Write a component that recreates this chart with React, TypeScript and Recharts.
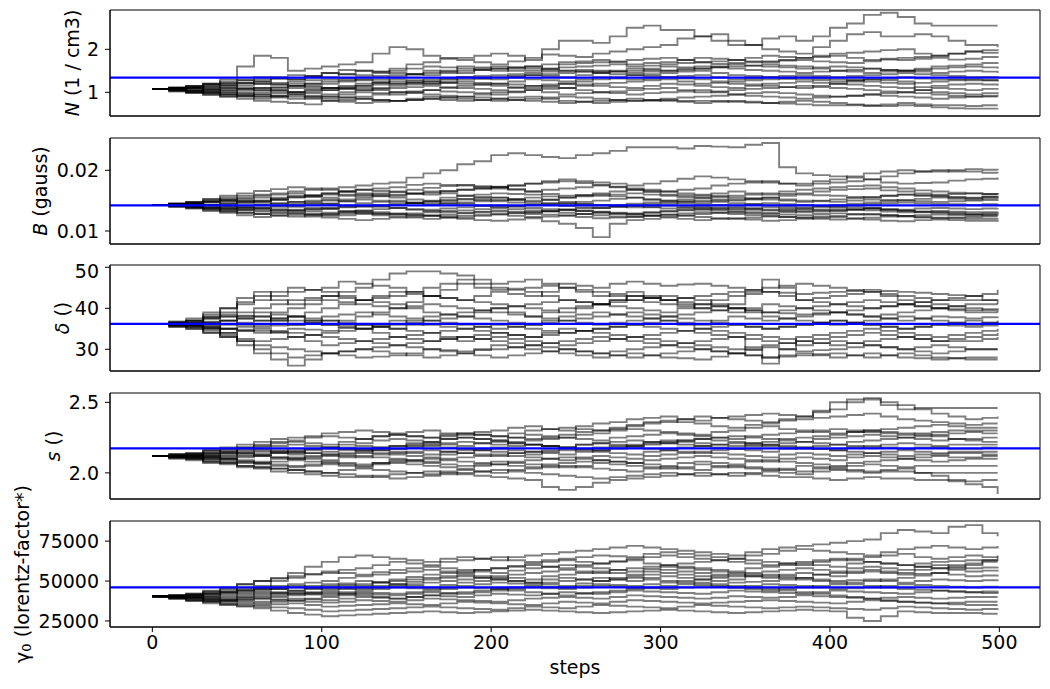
import React from "react";
import {
  LineChart,
  Line,
  XAxis,
  YAxis,
  ReferenceLine,
  ReferenceArea,
  Label,
} from "recharts";

// walker positions, one sample every 10 steps
const steps = [
  0, 10, 20, 30, 40, 50, 60, 70, 80, 90, 100, 110, 120, 130, 140, 150, 160, 170, 180, 190,
  200, 210, 220, 230, 240, 250, 260, 270, 280, 290, 300, 310, 320, 330, 340, 350, 360, 370, 380, 390,
  400, 410, 420, 430, 440, 450, 460, 470, 480, 490, 499,
];
const stepTicks = [0, 100, 200, 300, 400, 500];

// values at steps 0, 20, 40 ... 480, 499
const nEven = [
  [1.08, 1.15, 1.3, 1.85, 1.5, 1.6, 1.7, 2.05, 1.85, 1.8, 1.9, 1.75, 2.2, 2.15, 2.5, 2.45, 2.3, 2.1, 2.25, 2.2, 2.5, 2.8, 2.75, 2.55, 2.55, 2.55],
  [1.08, 1.1, 1.2, 1.25, 1.3, 1.45, 1.5, 1.55, 1.7, 1.75, 1.65, 1.8, 1.85, 1.9, 2.0, 2.1, 2.3, 2.2, 2.0, 1.9, 2.2, 2.4, 2.3, 2.3, 2.1, 2.05],
  [1.08, 1.05, 1.0, 1.1, 1.15, 1.2, 1.35, 1.4, 1.45, 1.6, 1.55, 1.5, 1.65, 1.7, 1.75, 1.8, 1.7, 1.75, 1.85, 1.8, 1.9, 1.95, 2.0, 1.85, 1.95, 1.9],
  [1.08, 1.12, 1.18, 1.2, 1.25, 1.3, 1.28, 1.35, 1.5, 1.45, 1.55, 1.6, 1.58, 1.62, 1.6, 1.65, 1.7, 1.68, 1.72, 1.75, 1.7, 1.72, 1.75, 1.8, 1.78, 1.8],
  [1.08, 1.0, 0.95, 1.0, 1.1, 1.05, 1.15, 1.2, 1.3, 1.35, 1.4, 1.45, 1.5, 1.48, 1.55, 1.5, 1.6, 1.55, 1.5, 1.45, 1.5, 1.55, 1.5, 1.6, 1.65, 1.7],
  [1.08, 1.1, 1.15, 1.05, 1.0, 1.1, 1.2, 1.25, 1.2, 1.3, 1.35, 1.4, 1.35, 1.45, 1.5, 1.6, 1.55, 1.65, 1.6, 1.55, 1.6, 1.55, 1.5, 1.55, 1.6, 1.55],
  [1.08, 1.03, 1.1, 1.2, 1.15, 1.25, 1.3, 1.2, 1.25, 1.35, 1.3, 1.4, 1.45, 1.5, 1.45, 1.5, 1.55, 1.6, 1.65, 1.6, 1.5, 1.45, 1.5, 1.45, 1.5, 1.45],
  [1.08, 1.15, 1.25, 1.3, 1.4, 1.35, 1.5, 1.45, 1.4, 1.5, 1.6, 1.55, 1.5, 1.45, 1.4, 1.45, 1.5, 1.4, 1.35, 1.4, 1.35, 1.4, 1.45, 1.4, 1.35, 1.38],
  [1.08, 1.05, 1.1, 1.05, 1.15, 1.1, 1.05, 1.15, 1.2, 1.25, 1.2, 1.3, 1.25, 1.35, 1.3, 1.35, 1.4, 1.3, 1.35, 1.3, 1.25, 1.3, 1.35, 1.3, 1.28, 1.3],
  [1.08, 1.0, 1.05, 0.95, 1.0, 1.05, 1.1, 1.0, 1.05, 1.15, 1.2, 1.15, 1.1, 1.2, 1.25, 1.3, 1.2, 1.25, 1.3, 1.35, 1.3, 1.25, 1.2, 1.25, 1.3, 1.25],
  [1.08, 1.12, 1.05, 1.1, 1.0, 0.95, 1.05, 1.1, 1.15, 1.1, 1.05, 1.15, 1.2, 1.15, 1.1, 1.2, 1.15, 1.1, 1.2, 1.25, 1.2, 1.15, 1.1, 1.15, 1.2, 1.15],
  [1.08, 0.98, 0.9, 0.95, 0.85, 0.9, 1.0, 0.95, 1.05, 1.0, 0.95, 1.05, 1.1, 1.0, 1.05, 1.1, 1.0, 1.05, 1.1, 1.15, 1.1, 1.05, 1.0, 1.1, 1.05, 1.1],
  [1.08, 1.02, 0.95, 0.9, 0.95, 0.85, 0.9, 1.0, 0.95, 0.9, 1.0, 1.05, 0.95, 1.0, 0.95, 1.0, 1.05, 0.95, 1.0, 0.95, 0.9, 0.95, 1.0, 0.95, 0.9, 0.95],
  [1.08, 1.0, 0.9, 0.8, 0.75, 0.8, 0.85, 0.8, 0.9, 0.85, 0.8, 0.85, 0.9, 0.85, 0.8, 0.85, 0.9, 0.95, 0.9, 0.85, 0.9, 0.95, 0.9, 0.85, 0.9, 0.9],
  [1.08, 1.05, 0.95, 0.85, 0.9, 0.8, 0.75, 0.8, 0.85, 0.9, 0.85, 0.8, 0.75, 0.8, 0.85, 0.8, 0.75, 0.8, 0.75, 0.8, 0.75, 0.7, 0.75, 0.7, 0.68, 0.7],
  [1.08, 1.1, 1.0, 0.9, 0.95, 0.9, 0.85, 0.8, 0.85, 0.8, 0.85, 0.9, 0.8, 0.75, 0.8, 0.82, 0.8, 0.78, 0.75, 0.72, 0.7, 0.68, 0.7, 0.65, 0.62, 0.63],
  [1.08, 1.1, 1.15, 1.25, 1.2, 1.1, 1.15, 1.3, 1.25, 1.2, 1.15, 1.1, 1.2, 1.3, 1.4, 1.35, 1.3, 1.2, 1.15, 1.1, 1.2, 1.3, 1.25, 1.0, 0.95, 1.0],
  [1.08, 1.14, 1.22, 1.35, 1.3, 1.45, 1.4, 1.5, 1.6, 1.55, 1.5, 1.6, 1.7, 1.75, 1.65, 1.7, 1.8, 1.75, 1.7, 1.8, 1.85, 1.75, 1.8, 1.85, 1.95, 2.0],
];
// values at steps 10, 30, 50 ... 490
const nOdd = [
  [1.1, 1.2, 1.6, 1.8, 1.55, 1.65, 1.9, 2.0, 1.8, 1.85, 1.85, 2.0, 2.2, 2.3, 2.55, 2.45, 2.2, 2.1, 2.3, 2.3, 2.6, 2.85, 2.6, 2.55, 2.55],
  [1.06, 1.18, 1.22, 1.32, 1.35, 1.52, 1.48, 1.65, 1.78, 1.7, 1.72, 1.88, 1.82, 1.95, 2.05, 2.25, 2.35, 2.1, 1.95, 2.05, 2.35, 2.3, 2.35, 2.2, 2.1],
  [1.1, 1.02, 1.05, 1.12, 1.2, 1.25, 1.38, 1.42, 1.5, 1.58, 1.5, 1.55, 1.68, 1.72, 1.78, 1.75, 1.72, 1.8, 1.82, 1.85, 1.92, 1.98, 1.9, 1.9, 1.92],
  [1.1, 1.15, 1.22, 1.18, 1.28, 1.32, 1.3, 1.42, 1.48, 1.52, 1.58, 1.55, 1.6, 1.65, 1.62, 1.68, 1.66, 1.7, 1.74, 1.72, 1.68, 1.76, 1.78, 1.76, 1.82],
  [1.04, 0.98, 0.97, 1.05, 1.08, 1.1, 1.18, 1.25, 1.32, 1.38, 1.42, 1.48, 1.52, 1.5, 1.52, 1.55, 1.58, 1.52, 1.48, 1.48, 1.52, 1.52, 1.55, 1.62, 1.68],
  [1.1, 1.12, 1.1, 1.02, 1.05, 1.15, 1.22, 1.22, 1.25, 1.32, 1.38, 1.38, 1.4, 1.48, 1.55, 1.58, 1.6, 1.62, 1.58, 1.58, 1.58, 1.52, 1.52, 1.58, 1.58],
  [1.05, 1.06, 1.15, 1.18, 1.2, 1.28, 1.25, 1.22, 1.3, 1.32, 1.35, 1.42, 1.48, 1.48, 1.48, 1.52, 1.58, 1.62, 1.62, 1.55, 1.48, 1.48, 1.48, 1.48, 1.48],
  [1.12, 1.2, 1.28, 1.35, 1.38, 1.42, 1.48, 1.42, 1.45, 1.55, 1.58, 1.52, 1.48, 1.42, 1.42, 1.48, 1.45, 1.38, 1.38, 1.38, 1.38, 1.42, 1.42, 1.38, 1.36],
  [1.06, 1.08, 1.08, 1.1, 1.12, 1.08, 1.1, 1.18, 1.22, 1.22, 1.25, 1.28, 1.3, 1.32, 1.32, 1.38, 1.35, 1.32, 1.32, 1.28, 1.28, 1.32, 1.32, 1.3, 1.28],
  [1.04, 1.02, 1.0, 0.98, 1.02, 1.08, 1.05, 1.02, 1.1, 1.18, 1.18, 1.12, 1.15, 1.22, 1.28, 1.25, 1.22, 1.28, 1.32, 1.32, 1.28, 1.22, 1.22, 1.28, 1.28],
  [1.1, 1.08, 1.08, 1.05, 0.98, 1.0, 1.08, 1.12, 1.12, 1.08, 1.1, 1.18, 1.18, 1.12, 1.15, 1.18, 1.12, 1.15, 1.22, 1.22, 1.18, 1.12, 1.12, 1.18, 1.18],
  [1.02, 0.94, 0.92, 0.9, 0.88, 0.95, 0.98, 1.0, 1.02, 0.98, 1.0, 1.08, 1.05, 1.02, 1.08, 1.05, 1.02, 1.08, 1.12, 1.12, 1.08, 1.02, 1.05, 1.08, 1.08],
  [1.05, 0.98, 0.92, 0.92, 0.9, 0.88, 0.95, 0.98, 0.92, 0.95, 1.02, 1.0, 0.98, 0.98, 0.98, 1.02, 1.0, 0.98, 0.98, 0.92, 0.92, 0.98, 0.98, 0.92, 0.92],
  [1.04, 0.95, 0.85, 0.78, 0.72, 0.82, 0.82, 0.85, 0.88, 0.82, 0.82, 0.88, 0.88, 0.82, 0.82, 0.88, 0.92, 0.92, 0.88, 0.88, 0.92, 0.92, 0.88, 0.88, 0.9],
  [1.06, 1.0, 0.9, 0.88, 0.85, 0.78, 0.78, 0.82, 0.88, 0.88, 0.82, 0.78, 0.78, 0.82, 0.82, 0.78, 0.78, 0.78, 0.78, 0.78, 0.72, 0.72, 0.72, 0.7, 0.7],
  [1.09, 1.05, 0.95, 0.92, 0.92, 0.88, 0.82, 0.82, 0.82, 0.82, 0.88, 0.85, 0.78, 0.78, 0.8, 0.8, 0.8, 0.76, 0.74, 0.7, 0.7, 0.68, 0.68, 0.63, 0.62],
  [1.1, 1.12, 1.2, 1.22, 1.15, 1.12, 1.22, 1.28, 1.22, 1.18, 1.12, 1.15, 1.25, 1.35, 1.38, 1.32, 1.25, 1.18, 1.12, 1.15, 1.25, 1.28, 1.05, 0.98, 0.98],
  [1.1, 1.18, 1.28, 1.32, 1.38, 1.42, 1.45, 1.55, 1.58, 1.52, 1.55, 1.65, 1.72, 1.7, 1.68, 1.75, 1.78, 1.72, 1.75, 1.82, 1.8, 1.78, 1.82, 1.9, 1.98],
];

const bEven = [
  [0.0143, 0.0148, 0.0155, 0.016, 0.0165, 0.017, 0.0175, 0.018, 0.0195, 0.021, 0.0225, 0.0225, 0.022, 0.0228, 0.0238, 0.0238, 0.024, 0.0238, 0.0245, 0.0195, 0.019, 0.0185, 0.0195, 0.02, 0.0198, 0.0195],
  [0.0143, 0.0146, 0.0152, 0.0158, 0.0162, 0.016, 0.0168, 0.0172, 0.0178, 0.0175, 0.017, 0.0178, 0.0185, 0.018, 0.0175, 0.0182, 0.019, 0.0185, 0.018, 0.0178, 0.0185, 0.0195, 0.02, 0.0198, 0.0202, 0.02],
  [0.0143, 0.0145, 0.015, 0.0148, 0.0155, 0.0162, 0.0158, 0.0165, 0.016, 0.0168, 0.0172, 0.0165, 0.017, 0.0175, 0.0168, 0.0165, 0.017, 0.0178, 0.0182, 0.0175, 0.018, 0.0185, 0.0178, 0.018, 0.0185, 0.0188],
  [0.0143, 0.014, 0.0145, 0.015, 0.0158, 0.0155, 0.016, 0.0155, 0.015, 0.0158, 0.0162, 0.016, 0.0155, 0.0162, 0.0168, 0.016, 0.0158, 0.0165, 0.016, 0.0162, 0.0168, 0.017, 0.0165, 0.016, 0.0162, 0.016],
  [0.0143, 0.0147, 0.0152, 0.0148, 0.0145, 0.015, 0.0155, 0.016, 0.0165, 0.0158, 0.0155, 0.015, 0.0155, 0.0158, 0.0162, 0.0158, 0.0155, 0.015, 0.0155, 0.016, 0.0158, 0.0155, 0.016, 0.0158, 0.0155, 0.0158],
  [0.0143, 0.0141, 0.0138, 0.0142, 0.0148, 0.0145, 0.0152, 0.0148, 0.0145, 0.0152, 0.0155, 0.0148, 0.0145, 0.015, 0.0155, 0.015, 0.0148, 0.0152, 0.0155, 0.015, 0.0148, 0.0152, 0.015, 0.0148, 0.015, 0.0152],
  [0.0143, 0.0145, 0.0141, 0.0138, 0.0142, 0.0145, 0.014, 0.0143, 0.0148, 0.0145, 0.014, 0.0143, 0.0146, 0.0142, 0.0145, 0.0148, 0.0145, 0.0142, 0.0146, 0.0143, 0.014, 0.0144, 0.0147, 0.0145, 0.0143, 0.0145],
  [0.0143, 0.0139, 0.0135, 0.0138, 0.0134, 0.0138, 0.0142, 0.0138, 0.0135, 0.0139, 0.0142, 0.0138, 0.0135, 0.0138, 0.0141, 0.0137, 0.014, 0.0137, 0.0134, 0.0137, 0.014, 0.0138, 0.0135, 0.0138, 0.0136, 0.0138],
  [0.0143, 0.014, 0.0136, 0.0132, 0.0135, 0.013, 0.0134, 0.0138, 0.0133, 0.013, 0.0134, 0.0131, 0.0135, 0.0132, 0.0129, 0.0133, 0.0136, 0.0132, 0.013, 0.0133, 0.0136, 0.0134, 0.0131, 0.0133, 0.0131, 0.0132],
  [0.0143, 0.0138, 0.0132, 0.0128, 0.013, 0.0127, 0.0131, 0.0128, 0.0125, 0.0129, 0.0132, 0.0128, 0.0126, 0.013, 0.0127, 0.0124, 0.0128, 0.0131, 0.0128, 0.0126, 0.0129, 0.0127, 0.0125, 0.0127, 0.0126, 0.0127],
  [0.0143, 0.0141, 0.0137, 0.0134, 0.0129, 0.0125, 0.0128, 0.0124, 0.012, 0.0125, 0.0128, 0.0123, 0.0125, 0.0121, 0.0124, 0.0127, 0.0123, 0.012, 0.0124, 0.0122, 0.0119, 0.0122, 0.0125, 0.0122, 0.012, 0.0121],
  [0.0143, 0.0137, 0.013, 0.0123, 0.0127, 0.0122, 0.0118, 0.0122, 0.0125, 0.012, 0.0117, 0.0121, 0.0112, 0.009, 0.0118, 0.0122, 0.0118, 0.0121, 0.0117, 0.012, 0.0123, 0.0119, 0.0116, 0.0119, 0.0117, 0.0118],
  [0.0143, 0.0146, 0.015, 0.0155, 0.0148, 0.0152, 0.0146, 0.015, 0.0143, 0.0147, 0.0151, 0.0155, 0.0148, 0.0143, 0.0139, 0.0142, 0.0138, 0.0135, 0.0139, 0.0136, 0.0133, 0.0137, 0.0134, 0.0131, 0.0128, 0.013],
  [0.0143, 0.0148, 0.0158, 0.0166, 0.0172, 0.0168, 0.0162, 0.0158, 0.0163, 0.0168, 0.0173, 0.0165, 0.0158, 0.016, 0.0155, 0.015, 0.0154, 0.0158, 0.0162, 0.0168, 0.0172, 0.0175, 0.017, 0.0165, 0.0162, 0.016],
  [0.0143, 0.0139, 0.0133, 0.0128, 0.0124, 0.0128, 0.0133, 0.0129, 0.0126, 0.0122, 0.0127, 0.0131, 0.0135, 0.0131, 0.0128, 0.0132, 0.0135, 0.0139, 0.0135, 0.0131, 0.0134, 0.0137, 0.0133, 0.013, 0.0127, 0.0125],
  [0.0143, 0.0145, 0.0148, 0.0144, 0.014, 0.0137, 0.0141, 0.0145, 0.0149, 0.0153, 0.0149, 0.0145, 0.0141, 0.0138, 0.0142, 0.0146, 0.015, 0.0146, 0.0142, 0.0139, 0.0143, 0.0147, 0.0151, 0.0155, 0.0152, 0.0155],
  [0.0143, 0.0141, 0.0145, 0.015, 0.0156, 0.0162, 0.0168, 0.0164, 0.0171, 0.0176, 0.0172, 0.0178, 0.0182, 0.0176, 0.017, 0.0165, 0.016, 0.0155, 0.0152, 0.0148, 0.0152, 0.0156, 0.016, 0.0157, 0.0154, 0.0157],
  [0.0143, 0.0144, 0.014, 0.0136, 0.0133, 0.0136, 0.013, 0.0127, 0.0131, 0.0134, 0.0138, 0.0134, 0.013, 0.0126, 0.0123, 0.0127, 0.0131, 0.0128, 0.0125, 0.0122, 0.0125, 0.0128, 0.0124, 0.0121, 0.0123, 0.0124],
];
const bOdd = [
  [0.0145, 0.0152, 0.0158, 0.0162, 0.0168, 0.0172, 0.0178, 0.0188, 0.02, 0.0215, 0.0228, 0.0222, 0.0225, 0.0232, 0.0238, 0.0236, 0.0239, 0.0242, 0.0205, 0.0192, 0.0188, 0.019, 0.0198, 0.0198, 0.0196],
  [0.0144, 0.0149, 0.0155, 0.016, 0.0158, 0.0165, 0.017, 0.0176, 0.0176, 0.0172, 0.0175, 0.0182, 0.0182, 0.0178, 0.0178, 0.0186, 0.0188, 0.0182, 0.0178, 0.0182, 0.019, 0.0198, 0.0198, 0.02, 0.0201],
  [0.0144, 0.0148, 0.015, 0.0152, 0.0158, 0.016, 0.0162, 0.0162, 0.0165, 0.017, 0.0168, 0.0168, 0.0172, 0.0172, 0.0166, 0.0168, 0.0175, 0.018, 0.0178, 0.0178, 0.0182, 0.018, 0.0179, 0.0183, 0.0186],
  [0.0141, 0.0142, 0.0148, 0.0155, 0.0156, 0.0158, 0.0157, 0.0152, 0.0155, 0.016, 0.0161, 0.0157, 0.0159, 0.0165, 0.0164, 0.0159, 0.0162, 0.0162, 0.0161, 0.0165, 0.0169, 0.0167, 0.0162, 0.0161, 0.0161],
  [0.0145, 0.015, 0.015, 0.0146, 0.0148, 0.0152, 0.0158, 0.0162, 0.0162, 0.0156, 0.0152, 0.0152, 0.0157, 0.016, 0.016, 0.0156, 0.0152, 0.0152, 0.0158, 0.0159, 0.0156, 0.0158, 0.0159, 0.0156, 0.0157],
  [0.0142, 0.0139, 0.014, 0.0145, 0.0146, 0.0149, 0.015, 0.0146, 0.0149, 0.0154, 0.0151, 0.0146, 0.0148, 0.0153, 0.0152, 0.0149, 0.015, 0.0154, 0.0152, 0.0149, 0.015, 0.0151, 0.0149, 0.0149, 0.0151],
  [0.0144, 0.0143, 0.0139, 0.014, 0.0144, 0.0142, 0.0141, 0.0146, 0.0146, 0.0142, 0.0141, 0.0145, 0.0144, 0.0143, 0.0147, 0.0146, 0.0143, 0.0144, 0.0144, 0.0141, 0.0142, 0.0146, 0.0146, 0.0144, 0.0144],
  [0.0141, 0.0137, 0.0136, 0.0136, 0.0136, 0.014, 0.014, 0.0136, 0.0137, 0.0141, 0.014, 0.0136, 0.0137, 0.014, 0.0139, 0.0138, 0.0139, 0.0135, 0.0135, 0.0139, 0.0139, 0.0136, 0.0137, 0.0137, 0.0137],
  [0.0141, 0.0138, 0.0134, 0.0134, 0.0132, 0.0132, 0.0136, 0.0135, 0.0131, 0.0132, 0.0132, 0.0133, 0.0133, 0.013, 0.0131, 0.0135, 0.0134, 0.0131, 0.0131, 0.0135, 0.0135, 0.0132, 0.0132, 0.0132, 0.0131],
  [0.014, 0.0135, 0.013, 0.0129, 0.0128, 0.0129, 0.0129, 0.0126, 0.0127, 0.0131, 0.013, 0.0127, 0.0128, 0.0128, 0.0125, 0.0126, 0.013, 0.0129, 0.0127, 0.0128, 0.0128, 0.0126, 0.0126, 0.0126, 0.0127],
  [0.0142, 0.0139, 0.0135, 0.0131, 0.0127, 0.0126, 0.0126, 0.0122, 0.0122, 0.0127, 0.0125, 0.0124, 0.0123, 0.0122, 0.0126, 0.0125, 0.0121, 0.0122, 0.0123, 0.012, 0.012, 0.0124, 0.0123, 0.0121, 0.012],
  [0.014, 0.0133, 0.0126, 0.0125, 0.0124, 0.012, 0.012, 0.0124, 0.0122, 0.0118, 0.0119, 0.0116, 0.0105, 0.0112, 0.012, 0.012, 0.012, 0.0119, 0.0118, 0.0122, 0.0121, 0.0117, 0.0118, 0.0118, 0.0117],
  [0.0145, 0.0148, 0.0153, 0.0151, 0.015, 0.0149, 0.0148, 0.0146, 0.0145, 0.0149, 0.0153, 0.0151, 0.0145, 0.0141, 0.014, 0.014, 0.0136, 0.0137, 0.0137, 0.0134, 0.0135, 0.0135, 0.0132, 0.013, 0.0129],
  [0.0145, 0.0153, 0.0162, 0.0169, 0.017, 0.0165, 0.016, 0.0161, 0.0166, 0.017, 0.0169, 0.0161, 0.0159, 0.0157, 0.0152, 0.0152, 0.0156, 0.016, 0.0165, 0.017, 0.0174, 0.0172, 0.0167, 0.0163, 0.0161],
  [0.0141, 0.0136, 0.013, 0.0126, 0.0126, 0.0131, 0.0131, 0.0127, 0.0124, 0.0125, 0.0129, 0.0133, 0.0133, 0.0129, 0.013, 0.0134, 0.0137, 0.0137, 0.0133, 0.0132, 0.0136, 0.0135, 0.0131, 0.0128, 0.0126],
  [0.0144, 0.0147, 0.0146, 0.0142, 0.0138, 0.0139, 0.0143, 0.0147, 0.0151, 0.0151, 0.0147, 0.0143, 0.0139, 0.014, 0.0144, 0.0148, 0.0148, 0.0144, 0.014, 0.0141, 0.0145, 0.0149, 0.0153, 0.0153, 0.0154],
  [0.0142, 0.0143, 0.0148, 0.0153, 0.0159, 0.0165, 0.0166, 0.0168, 0.0174, 0.0174, 0.0175, 0.018, 0.0179, 0.0173, 0.0168, 0.0162, 0.0158, 0.0153, 0.015, 0.015, 0.0154, 0.0158, 0.0158, 0.0155, 0.0156],
  [0.0144, 0.0142, 0.0138, 0.0134, 0.0135, 0.0133, 0.0128, 0.0129, 0.0133, 0.0136, 0.0136, 0.0132, 0.0128, 0.0124, 0.0125, 0.0129, 0.013, 0.0126, 0.0123, 0.0124, 0.0127, 0.0126, 0.0122, 0.0122, 0.0124],
];

const dEven = [
  [36.2, 37, 39, 42, 44, 45, 46, 45, 43, 46, 44.5, 45, 46, 45, 46.5, 45.5, 46, 45, 44, 43.5, 44, 44.5, 44, 43.5, 43, 44.5],
  [36.2, 37.5, 40, 44, 41, 43, 45, 48.5, 49, 48, 46, 47, 45, 43, 44, 42, 43, 44, 45, 46, 45, 44, 43, 42, 42, 42],
  [36.2, 36.5, 38, 37, 40, 42, 41, 40, 43, 42, 41, 40, 39, 41, 42, 43, 42, 40, 39, 40, 41, 42, 41, 40, 41, 41],
  [36.2, 36, 37, 39, 38, 40, 42, 41, 39, 38, 40, 41, 42, 41, 40, 39, 41, 40, 39, 38.5, 39, 40, 41, 40, 39.5, 40],
  [36.2, 37, 38.5, 38, 37, 36, 38, 40, 41, 40, 39, 38, 40, 41, 43, 42, 40, 39, 41, 40, 39, 38, 39, 40, 39, 39],
  [36.2, 35.5, 35, 36, 38, 37, 36, 35, 37, 38, 37, 36, 38, 39, 38, 37, 36, 38, 37, 38, 39, 38, 37, 38, 37.5, 38],
  [36.2, 36, 37, 35.5, 36, 37, 35, 36, 38, 39, 40, 38, 37, 36, 37, 38, 39, 40, 38, 37, 36, 37, 38, 37, 36, 37],
  [36.2, 36.5, 35, 34, 35, 34.5, 36, 35, 34, 35, 36, 35, 34, 35, 36, 37, 35, 36, 35, 36, 37, 36, 35, 36, 35.5, 36],
  [36.2, 35.8, 34, 35, 33, 34, 35, 33, 32, 33, 34, 33, 35, 34, 33, 34, 35, 34, 33, 32, 33, 34, 33, 32, 33, 34],
  [36.2, 35.5, 33, 32, 33, 31, 32, 33, 34, 32, 33, 32, 31, 32, 33, 32, 31, 30, 31, 32, 31, 32, 33, 32, 32, 33],
  [36.2, 35, 33.5, 31, 30, 29, 30, 31, 30, 29.5, 30, 31, 30, 29, 30, 31, 30, 29, 30.5, 29.5, 30, 31, 30, 29, 30, 30],
  [36.2, 35.5, 34, 30, 28, 29, 28, 28.5, 30, 29, 28, 29, 30, 29, 28, 29, 30, 29, 28, 29, 28, 29, 28, 27.5, 28, 28],
  [36.2, 36, 33, 29, 26, 29, 30, 29, 28, 29, 31, 30, 29, 28, 29, 28, 27.5, 29, 28, 28.5, 29, 28, 29, 28, 27.5, 27.5],
  [36.2, 37, 40, 43, 45, 44, 42, 43, 45, 47, 45, 44, 42, 41, 43, 42, 41, 43, 44, 42, 41, 40, 41, 42, 43, 41],
  [36.2, 35, 36, 37, 38, 36, 35, 37, 36, 35, 34, 33, 34, 35, 36, 35, 34, 33, 26.5, 33, 34, 35, 34, 33, 34, 35],
  [36.2, 36.8, 38, 40, 42, 43, 42, 44, 43, 42, 44, 43, 45, 44, 42, 41, 40, 41, 47, 42, 43, 44, 42, 41, 40, 39],
  [36.2, 36, 35, 34.5, 34, 33, 32, 31, 32, 33, 32, 31, 32, 33, 32, 31, 32, 33, 32, 31, 32, 31, 30, 31, 30, 30],
  [36.2, 36.4, 37, 38, 36, 38, 39, 38, 37, 36, 35, 36, 37, 38, 39, 38, 37, 36, 35, 36, 37, 36, 35, 36, 37, 36],
];
const dOdd = [
  [36.5, 38, 41, 43, 44.5, 46.5, 45.5, 44, 44.5, 45, 44.8, 45.5, 45.5, 46, 46, 45.8, 45.5, 44.5, 43.8, 43.8, 44.2, 44.2, 43.8, 43.2, 43.5],
  [36.8, 39, 42.5, 42, 42, 44, 47, 49, 48.5, 47, 46.5, 46, 44, 43.5, 43, 42.5, 43.5, 44.5, 45.5, 45.5, 44.5, 43.5, 42.5, 42, 42],
  [36.3, 37.5, 37.5, 39, 41, 41.5, 40.5, 41.5, 42.5, 41.5, 40.5, 39.5, 40, 41.5, 42.5, 42.5, 41, 39.5, 39.5, 40.5, 41.5, 41.5, 40.5, 40.5, 41],
  [36.1, 36.5, 38, 38.5, 39, 41, 41.5, 40, 38.5, 39, 40.5, 41.5, 41.5, 40.5, 39.5, 40, 40.5, 39.5, 38.8, 38.8, 39.5, 40.5, 40.5, 39.8, 39.8],
  [36.6, 37.8, 38.2, 37.5, 36.5, 37, 39, 40.5, 40.5, 39.5, 38.5, 39, 40.5, 42, 42.5, 41, 39.5, 40, 40.5, 39.5, 38.5, 38.5, 39.5, 39.5, 39],
  [35.8, 35.2, 35.5, 37, 37.5, 36.5, 35.5, 36, 37.5, 37.5, 36.5, 37, 38.5, 38.5, 37.5, 36.5, 37, 37.5, 37.5, 38.5, 38.5, 37.5, 37.5, 37.8, 37.8],
  [36.1, 36.5, 36, 35.8, 36.5, 36, 35.5, 37, 38.5, 39.5, 39, 37.5, 36.5, 36.5, 37.5, 38.5, 39.5, 39, 37.5, 36.5, 36.5, 37.5, 37.5, 36.5, 36.5],
  [36.3, 35.8, 34.5, 34.5, 34.8, 35.2, 35.5, 34.5, 34.5, 35.5, 35.5, 34.5, 34.5, 35.5, 36.5, 36, 35.5, 35.5, 35.5, 36.5, 36.5, 35.5, 35.5, 35.8, 35.8],
  [36, 35, 34.5, 34, 33.5, 34.5, 34, 32.5, 32.5, 33.5, 33.5, 34, 34.5, 33.5, 33.5, 34.5, 34.5, 33.5, 32.5, 32.5, 33.5, 33.5, 32.5, 32.5, 33.5],
  [35.8, 34, 32.5, 32.5, 32, 31.5, 32.5, 33.5, 33, 32.5, 32.5, 31.5, 31.5, 32.5, 32.5, 31.5, 30.5, 30.5, 31.5, 31.5, 31.5, 32.5, 32.5, 32, 32.5],
  [35.5, 34, 32, 30.5, 29.5, 29.5, 30.5, 30.5, 29.8, 29.8, 30.5, 30.5, 29.5, 29.5, 30.5, 30.5, 29.5, 29.8, 30, 29.8, 30.5, 30.5, 29.5, 29.5, 30],
  [35.8, 35, 32, 29, 28.5, 28.5, 28.2, 29, 29.5, 28.5, 28.5, 29.5, 29.5, 28.5, 28.5, 29.5, 29.5, 28.5, 28.5, 28.5, 28.5, 28.5, 27.8, 27.8, 28],
  [36.1, 34.5, 31, 27.5, 27.5, 29.5, 29.5, 28.5, 28.5, 30, 30.5, 29.5, 28.5, 28.5, 28.5, 27.8, 28.2, 28.5, 28.2, 28.8, 28.5, 28.5, 28.5, 27.8, 27.5],
  [36.5, 38.5, 41.5, 44, 44.5, 43, 42.5, 44, 46, 46, 44.5, 43, 41.5, 42, 42.5, 41.5, 42, 43.5, 43, 41.5, 40.5, 40.5, 41.5, 42.5, 42],
  [35.5, 35.5, 36.5, 37.5, 37, 35.5, 36, 36.5, 35.5, 34.5, 33.5, 33.5, 34.5, 35.5, 35.5, 34.5, 33.5, 30, 30, 33.5, 34.5, 34.5, 33.5, 33.5, 34.5],
  [36.5, 37.5, 39, 41, 42.5, 42.5, 43, 43.5, 42.5, 43, 43.5, 44, 44.5, 43, 41.5, 40.5, 40.5, 44, 45, 42.5, 43.5, 43, 41.5, 40.5, 39.5],
  [36.1, 35.5, 34.8, 34.2, 33.5, 32.5, 31.5, 31.5, 32.5, 32.5, 31.5, 31.5, 32.5, 32.5, 31.5, 31.5, 32.5, 32.5, 31.5, 31.5, 31.5, 30.5, 30.5, 30.5, 30],
  [36.3, 36.7, 37.5, 37, 37, 38.5, 38.5, 37.5, 36.5, 35.5, 35.5, 36.5, 37.5, 38.5, 38.5, 37.5, 36.5, 35.5, 35.5, 36.5, 36.5, 35.5, 35.5, 36.5, 36.5],
];

const sEven = [
  [2.12, 2.14, 2.17, 2.2, 2.23, 2.26, 2.24, 2.28, 2.3, 2.27, 2.3, 2.33, 2.3, 2.35, 2.38, 2.4, 2.37, 2.4, 2.42, 2.4, 2.45, 2.52, 2.45, 2.46, 2.46, 2.46],
  [2.12, 2.13, 2.16, 2.19, 2.22, 2.2, 2.24, 2.27, 2.25, 2.28, 2.26, 2.3, 2.32, 2.3, 2.34, 2.37, 2.35, 2.32, 2.35, 2.38, 2.4, 2.42, 2.38, 2.36, 2.34, 2.35],
  [2.12, 2.12, 2.14, 2.17, 2.15, 2.18, 2.21, 2.24, 2.22, 2.25, 2.23, 2.27, 2.25, 2.28, 2.31, 2.29, 2.27, 2.3, 2.33, 2.3, 2.28, 2.3, 2.32, 2.34, 2.32, 2.32],
  [2.12, 2.11, 2.13, 2.16, 2.14, 2.17, 2.19, 2.17, 2.2, 2.22, 2.2, 2.23, 2.25, 2.23, 2.26, 2.28, 2.26, 2.24, 2.27, 2.29, 2.31, 2.29, 2.27, 2.29, 2.3, 2.3],
  [2.12, 2.13, 2.15, 2.13, 2.16, 2.18, 2.16, 2.19, 2.21, 2.19, 2.22, 2.2, 2.18, 2.21, 2.23, 2.21, 2.24, 2.26, 2.24, 2.22, 2.25, 2.27, 2.25, 2.27, 2.29, 2.28],
  [2.12, 2.11, 2.12, 2.15, 2.13, 2.15, 2.17, 2.15, 2.13, 2.16, 2.18, 2.2, 2.18, 2.16, 2.19, 2.21, 2.19, 2.17, 2.2, 2.22, 2.2, 2.23, 2.25, 2.23, 2.24, 2.25],
  [2.12, 2.12, 2.11, 2.13, 2.15, 2.13, 2.11, 2.14, 2.16, 2.14, 2.17, 2.15, 2.13, 2.16, 2.18, 2.16, 2.19, 2.21, 2.19, 2.17, 2.2, 2.18, 2.21, 2.19, 2.2, 2.2],
  [2.12, 2.11, 2.1, 2.12, 2.1, 2.13, 2.15, 2.13, 2.11, 2.14, 2.12, 2.15, 2.17, 2.15, 2.13, 2.16, 2.14, 2.17, 2.15, 2.18, 2.16, 2.19, 2.17, 2.18, 2.17, 2.18],
  [2.12, 2.12, 2.1, 2.08, 2.11, 2.09, 2.12, 2.1, 2.08, 2.11, 2.13, 2.11, 2.09, 2.12, 2.1, 2.13, 2.15, 2.13, 2.11, 2.14, 2.12, 2.14, 2.16, 2.14, 2.15, 2.15],
  [2.12, 2.11, 2.09, 2.07, 2.09, 2.07, 2.05, 2.08, 2.1, 2.08, 2.06, 2.09, 2.11, 2.09, 2.07, 2.1, 2.12, 2.1, 2.08, 2.11, 2.09, 2.12, 2.1, 2.12, 2.11, 2.12],
  [2.12, 2.1, 2.08, 2.06, 2.04, 2.06, 2.04, 2.07, 2.05, 2.03, 2.06, 2.04, 2.07, 2.09, 2.07, 2.05, 2.08, 2.06, 2.09, 2.07, 2.05, 2.08, 2.1, 2.08, 2.1, 2.1],
  [2.12, 2.1, 2.07, 2.04, 2.02, 2.0, 2.03, 2.01, 1.99, 2.02, 2.0, 2.03, 2.05, 2.03, 2.01, 2.04, 2.02, 2.05, 2.03, 2.01, 2.04, 2.06, 2.04, 2.05, 2.05, 2.05],
  [2.12, 2.09, 2.06, 2.03, 2.0, 1.98, 1.97, 1.99, 2.01, 1.99, 1.97, 1.95, 1.88, 1.93, 1.96, 1.98, 2.0, 1.98, 2.01, 1.99, 2.02, 2.0, 2.01, 2.0, 2.0, 2.0],
  [2.12, 2.1, 2.07, 2.04, 2.02, 2.0, 1.98, 1.96, 1.98, 2.0, 2.02, 2.0, 1.98, 1.96, 1.98, 2.0, 1.98, 2.0, 1.98, 1.97, 1.95, 1.97, 1.96, 1.95, 1.94, 1.95],
  [2.12, 2.13, 2.1, 2.07, 2.05, 2.08, 2.06, 2.09, 2.07, 2.05, 2.08, 2.06, 2.04, 2.07, 2.05, 2.03, 2.06, 2.04, 2.02, 2.05, 2.03, 2.01, 2.03, 1.98, 1.92, 1.85],
  [2.12, 2.14, 2.18, 2.22, 2.25, 2.28, 2.3, 2.27, 2.25, 2.28, 2.26, 2.24, 2.27, 2.3, 2.33, 2.36, 2.4, 2.38, 2.36, 2.4, 2.5, 2.53, 2.48, 2.42, 2.38, 2.4],
  [2.12, 2.13, 2.15, 2.18, 2.2, 2.18, 2.16, 2.19, 2.22, 2.25, 2.23, 2.2, 2.18, 2.21, 2.19, 2.22, 2.24, 2.22, 2.2, 2.18, 2.16, 2.14, 2.12, 2.13, 2.14, 2.13],
  [2.12, 2.12, 2.14, 2.12, 2.1, 2.12, 2.14, 2.17, 2.19, 2.17, 2.15, 2.13, 2.16, 2.18, 2.2, 2.23, 2.21, 2.19, 2.22, 2.25, 2.27, 2.3, 2.28, 2.26, 2.23, 2.22],
];
const sOdd = [
  [2.13, 2.16, 2.18, 2.22, 2.25, 2.25, 2.26, 2.29, 2.28, 2.29, 2.32, 2.31, 2.33, 2.36, 2.39, 2.38, 2.39, 2.41, 2.41, 2.43, 2.5, 2.48, 2.46, 2.46, 2.46],
  [2.12, 2.15, 2.18, 2.21, 2.21, 2.22, 2.26, 2.26, 2.27, 2.27, 2.28, 2.31, 2.31, 2.32, 2.36, 2.36, 2.33, 2.34, 2.37, 2.39, 2.41, 2.4, 2.37, 2.35, 2.35],
  [2.12, 2.13, 2.16, 2.16, 2.17, 2.2, 2.23, 2.23, 2.24, 2.24, 2.25, 2.26, 2.27, 2.3, 2.3, 2.28, 2.29, 2.32, 2.31, 2.29, 2.29, 2.31, 2.33, 2.33, 2.32],
  [2.11, 2.12, 2.15, 2.15, 2.16, 2.18, 2.18, 2.19, 2.21, 2.21, 2.22, 2.24, 2.24, 2.25, 2.27, 2.27, 2.25, 2.26, 2.28, 2.3, 2.3, 2.28, 2.28, 2.3, 2.3],
  [2.13, 2.14, 2.14, 2.15, 2.17, 2.17, 2.18, 2.2, 2.2, 2.21, 2.21, 2.19, 2.2, 2.22, 2.22, 2.23, 2.25, 2.25, 2.23, 2.24, 2.26, 2.26, 2.26, 2.28, 2.28],
  [2.11, 2.11, 2.14, 2.14, 2.14, 2.16, 2.16, 2.14, 2.15, 2.17, 2.19, 2.19, 2.17, 2.18, 2.2, 2.2, 2.18, 2.19, 2.21, 2.21, 2.22, 2.24, 2.24, 2.24, 2.25],
  [2.12, 2.11, 2.12, 2.14, 2.14, 2.12, 2.13, 2.15, 2.15, 2.16, 2.16, 2.14, 2.15, 2.17, 2.17, 2.18, 2.2, 2.2, 2.18, 2.19, 2.19, 2.2, 2.2, 2.2, 2.2],
  [2.11, 2.1, 2.11, 2.11, 2.12, 2.14, 2.14, 2.12, 2.13, 2.13, 2.14, 2.16, 2.16, 2.14, 2.15, 2.15, 2.16, 2.16, 2.17, 2.17, 2.18, 2.18, 2.18, 2.17, 2.18],
  [2.12, 2.11, 2.09, 2.1, 2.1, 2.11, 2.11, 2.09, 2.1, 2.12, 2.12, 2.1, 2.11, 2.11, 2.12, 2.14, 2.14, 2.12, 2.13, 2.13, 2.13, 2.15, 2.15, 2.15, 2.15],
  [2.11, 2.1, 2.08, 2.08, 2.08, 2.06, 2.07, 2.09, 2.09, 2.07, 2.08, 2.1, 2.1, 2.08, 2.09, 2.11, 2.11, 2.09, 2.1, 2.1, 2.11, 2.11, 2.11, 2.11, 2.12],
  [2.11, 2.09, 2.07, 2.05, 2.05, 2.05, 2.06, 2.06, 2.04, 2.05, 2.05, 2.06, 2.08, 2.08, 2.06, 2.07, 2.07, 2.08, 2.08, 2.06, 2.07, 2.09, 2.09, 2.09, 2.1],
  [2.11, 2.08, 2.05, 2.03, 2.01, 2.02, 2.02, 2.0, 2.01, 2.01, 2.02, 2.04, 2.04, 2.02, 2.03, 2.03, 2.04, 2.04, 2.02, 2.03, 2.05, 2.05, 2.05, 2.05, 2.05],
  [2.1, 2.07, 2.04, 2.01, 1.99, 1.97, 1.98, 2.0, 2.0, 1.98, 1.96, 1.9, 1.9, 1.95, 1.97, 1.99, 1.99, 2.0, 2.0, 2.01, 2.01, 2.01, 2.0, 2.0, 2.0],
  [2.11, 2.08, 2.05, 2.03, 2.01, 1.99, 1.97, 1.97, 1.99, 2.01, 2.01, 1.99, 1.97, 1.97, 1.99, 1.99, 1.99, 1.99, 1.97, 1.96, 1.96, 1.96, 1.95, 1.94, 1.95],
  [2.13, 2.12, 2.08, 2.06, 2.06, 2.07, 2.07, 2.08, 2.06, 2.06, 2.07, 2.05, 2.05, 2.06, 2.04, 2.04, 2.05, 2.03, 2.03, 2.04, 2.02, 2.02, 2.0, 1.95, 1.9],
  [2.13, 2.16, 2.2, 2.24, 2.26, 2.29, 2.29, 2.26, 2.26, 2.27, 2.25, 2.25, 2.29, 2.31, 2.35, 2.38, 2.39, 2.37, 2.38, 2.44, 2.52, 2.5, 2.45, 2.4, 2.39],
  [2.12, 2.14, 2.17, 2.19, 2.19, 2.17, 2.17, 2.21, 2.24, 2.24, 2.21, 2.19, 2.2, 2.2, 2.21, 2.23, 2.23, 2.21, 2.19, 2.17, 2.15, 2.13, 2.13, 2.14, 2.13],
  [2.12, 2.13, 2.13, 2.11, 2.11, 2.13, 2.16, 2.18, 2.18, 2.16, 2.14, 2.15, 2.17, 2.19, 2.22, 2.22, 2.2, 2.21, 2.24, 2.26, 2.29, 2.29, 2.27, 2.24, 2.22],
];

const gEven = [
  [40500, 42000, 45000, 50000, 55000, 62000, 66000, 64000, 62000, 65000, 63000, 66000, 68000, 70000, 72000, 70000, 68000, 66000, 70000, 72000, 74000, 76000, 82000, 80000, 85000, 78000],
  [40500, 41500, 44000, 47000, 52000, 55000, 58000, 62000, 60000, 63000, 65000, 62000, 64000, 66000, 65000, 68000, 66000, 64000, 67000, 70000, 68000, 66000, 70000, 72000, 70000, 72000],
  [40500, 41000, 43000, 45000, 48000, 50000, 53000, 55000, 57000, 55000, 58000, 60000, 58000, 61000, 63000, 60000, 62000, 64000, 62000, 60000, 63000, 65000, 67000, 64000, 66000, 65000],
  [40500, 40000, 42000, 44000, 46000, 48000, 47000, 50000, 52000, 54000, 52000, 55000, 57000, 55000, 58000, 60000, 58000, 56000, 59000, 61000, 59000, 62000, 60000, 58000, 61000, 62000],
  [40500, 41000, 40000, 42000, 44000, 46000, 45000, 47000, 49000, 51000, 53000, 51000, 54000, 56000, 54000, 57000, 55000, 53000, 56000, 58000, 56000, 59000, 57000, 60000, 58000, 59000],
  [40500, 39500, 41000, 43000, 42000, 44000, 46000, 48000, 46000, 49000, 51000, 49000, 52000, 50000, 53000, 55000, 53000, 51000, 54000, 52000, 55000, 57000, 55000, 58000, 56000, 57000],
  [40500, 40500, 39000, 41000, 43000, 42000, 44000, 46000, 45000, 47000, 49000, 48000, 50000, 52000, 50000, 53000, 51000, 54000, 52000, 55000, 53000, 56000, 54000, 55000, 53000, 54000],
  [40500, 40000, 38500, 40000, 42000, 41000, 43000, 42000, 44000, 46000, 45000, 47000, 46000, 48000, 47000, 49000, 51000, 49000, 50000, 52000, 50000, 51000, 49000, 51000, 50000, 51000],
  [40500, 39000, 37500, 39000, 38000, 40000, 42000, 41000, 43000, 42000, 44000, 46000, 45000, 47000, 46000, 45000, 47000, 46000, 48000, 47000, 45000, 46000, 48000, 47000, 46000, 47000],
  [40500, 39500, 38000, 37000, 39000, 38000, 40000, 39000, 41000, 40000, 42000, 41000, 43000, 42000, 44000, 43000, 42000, 44000, 43000, 42000, 44000, 43000, 42000, 44000, 43000, 44000],
  [40500, 38500, 37000, 36000, 37500, 36500, 38000, 37000, 39000, 38000, 37000, 39000, 40000, 39000, 41000, 40000, 39000, 40500, 39500, 41000, 40000, 39000, 40000, 39000, 40000, 40000],
  [40500, 38000, 36000, 35000, 36000, 34000, 35000, 36000, 35000, 37000, 36000, 35000, 37000, 36000, 38000, 37000, 36000, 37000, 38000, 37000, 36000, 38000, 37000, 36000, 37000, 37000],
  [40500, 37500, 35000, 34000, 33000, 31000, 32000, 33000, 34000, 33000, 32000, 34000, 33000, 35000, 34000, 33000, 35000, 34000, 33000, 34000, 33000, 32000, 34000, 33000, 32000, 33000],
  [40500, 38000, 35500, 33000, 30000, 28000, 29000, 30000, 31000, 30000, 31000, 32000, 31000, 30000, 31000, 32000, 31000, 30000, 31000, 32000, 31000, 25000, 31000, 30000, 30000, 29500],
  [40500, 42000, 46000, 50000, 53000, 56000, 54000, 57000, 59000, 57000, 55000, 58000, 60000, 58000, 56000, 59000, 57000, 55000, 53000, 51000, 49000, 47000, 45000, 44000, 43000, 42000],
  [40500, 41000, 43000, 46000, 44000, 47000, 50000, 48000, 51000, 53000, 51000, 49000, 47000, 50000, 52000, 50000, 48000, 46000, 44000, 46000, 48000, 50000, 52000, 55000, 60000, 66000],
  [40500, 39500, 38000, 39000, 41000, 43000, 41000, 39000, 41000, 43000, 45000, 43000, 41000, 43000, 45000, 47000, 49000, 47000, 45000, 43000, 41000, 39000, 37000, 36000, 35000, 35000],
  [40500, 41500, 43000, 45000, 47000, 45000, 48000, 51000, 54000, 56000, 58000, 61000, 63000, 61000, 64000, 66000, 64000, 62000, 60000, 62000, 64000, 62000, 60000, 62000, 63000, 63000],
];
const gOdd = [
  [41000, 43500, 48000, 52000, 59000, 65000, 65000, 63000, 64000, 64000, 65000, 67000, 69000, 71000, 71000, 69000, 67000, 68000, 71000, 73000, 75000, 80000, 81000, 84000, 80000],
  [41000, 43000, 45500, 50000, 54000, 57000, 60000, 61000, 62000, 64000, 63000, 63000, 65000, 65500, 67000, 67000, 65000, 66000, 69000, 69000, 67000, 68000, 71000, 71000, 71000],
  [40500, 42000, 44000, 47000, 49000, 52000, 54000, 56000, 56000, 57000, 59000, 59000, 60000, 62000, 61000, 61000, 63000, 63000, 61000, 62000, 64000, 66000, 65000, 65000, 65000],
  [40000, 41000, 43000, 45000, 47000, 47500, 49000, 51000, 53000, 53000, 54000, 56000, 56000, 57000, 59000, 59000, 57000, 58000, 60000, 60000, 61000, 61000, 59000, 60000, 62000],
  [41000, 40500, 41000, 43000, 45000, 45500, 46000, 48000, 50000, 52000, 52000, 53000, 55000, 55000, 56000, 56000, 54000, 55000, 57000, 57000, 58000, 58000, 59000, 59000, 58500],
  [40000, 40000, 42000, 42500, 43000, 45000, 47000, 47000, 47500, 50000, 50000, 51000, 51000, 52000, 54000, 54000, 52000, 53000, 53000, 54000, 56000, 56000, 57000, 57000, 56500],
  [40500, 39500, 40000, 42000, 42500, 43000, 45000, 45500, 46000, 48000, 48500, 49000, 51000, 51000, 52000, 52000, 53000, 53000, 54000, 54000, 55000, 55000, 54500, 54000, 53500],
  [40000, 39000, 39500, 41000, 41500, 42000, 42500, 43000, 45000, 45500, 46000, 46500, 47000, 47500, 48000, 50000, 50000, 49500, 51000, 51000, 50500, 50000, 50000, 50500, 50500],
  [39500, 38000, 38500, 38500, 39000, 41000, 41500, 42000, 42500, 43000, 45000, 45500, 46000, 46500, 45500, 46000, 46500, 47000, 47500, 46000, 45500, 47000, 47500, 46500, 46500],
  [40000, 38500, 37500, 38000, 38500, 39000, 39500, 40000, 40500, 41000, 41500, 42000, 42500, 43000, 43500, 42500, 43000, 43500, 42500, 43000, 43500, 42500, 43000, 43500, 43500],
  [39500, 37500, 36500, 37000, 37000, 37000, 37500, 38000, 38500, 37500, 38000, 39500, 39500, 40000, 40500, 39500, 39500, 40000, 40000, 40500, 39500, 39500, 39500, 39500, 40000],
  [39000, 37000, 35500, 35500, 35000, 34500, 35500, 35500, 36000, 36500, 35500, 36000, 36500, 37000, 37500, 36500, 36500, 37500, 37500, 36500, 37000, 37500, 36500, 36500, 37000],
  [39000, 36000, 34500, 33500, 32000, 31500, 32500, 33500, 33500, 32500, 33000, 33500, 34000, 34500, 33500, 34000, 34500, 33500, 33500, 33500, 32500, 33000, 33500, 32500, 32500],
  [39000, 37000, 34000, 31500, 29000, 28500, 29500, 30500, 30500, 30500, 31500, 31500, 30500, 30500, 31500, 31500, 30500, 30500, 31500, 31500, 27000, 28000, 30500, 30000, 29500],
  [41000, 44000, 48000, 51500, 54500, 55000, 55500, 58000, 58000, 56000, 56500, 59000, 59000, 57000, 57500, 58000, 56000, 54000, 52000, 50000, 48000, 46000, 44500, 43500, 42500],
  [40500, 42000, 44500, 45000, 45500, 48500, 49000, 49500, 52000, 52000, 50000, 48000, 48500, 51000, 51000, 49000, 47000, 45000, 45000, 47000, 49000, 51000, 53500, 58000, 63000],
  [40000, 38500, 38500, 40000, 42000, 42000, 40000, 40000, 42000, 44000, 44000, 42000, 42000, 44000, 46000, 48000, 48000, 46000, 44000, 42000, 40000, 38000, 36500, 35500, 35000],
  [41000, 42000, 44000, 46000, 46000, 46500, 49500, 52500, 55000, 57000, 59500, 62000, 62000, 62500, 65000, 65000, 63000, 61000, 61000, 63000, 63000, 61000, 61000, 62500, 63000],
];

// best-fit values (blue lines)
const bestValues = [1.34, 0.01423, 36.2, 2.173, 46000];
const yDomains: [number, number][] = [
  [0.449, 2.914],
  [0.00786, 0.02532],
  [24.7, 50.56],
  [1.815, 2.566],
  [21220, 87610],
];
const yTicks = [
  [1, 2],
  [0.01, 0.02],
  [30, 40, 50],
  [2.0, 2.5],
  [25000, 50000, 75000],
];

const FONT = "DejaVu Sans";
const FS = 19;
const X_DOMAIN: [number, number] = [-25, 524];
const PLOT_H = 106;
const TOP_PAD = 5;

// put the 20-step samples and the in-between samples back in step order
function weave(even: number[][], odd: number[][]) {
  return even.map((ev, k) => {
    const out: (number | null)[] = [];
    ev.forEach((v, i) => {
      out.push(v);
      if (i < ev.length - 1) out.push(odd[k][i] ?? null);
    });
    return out;
  });
}

function toRows(walkers: (number | null)[][]) {
  return steps.map((s, i) => {
    const row: Record<string, number | null> = { step: s };
    walkers.forEach((w, k) => {
      row["w" + k] = w[i] ?? null;
    });
    return row;
  });
}

function yLabel(kind: number) {
  if (kind === 0)
    return (
      <>
        <tspan fontStyle="italic">N</tspan>
        <tspan> (1 / cm3)</tspan>
      </>
    );
  if (kind === 1)
    return (
      <>
        <tspan fontStyle="italic">B</tspan>
        <tspan> (gauss)</tspan>
      </>
    );
  if (kind === 2)
    return (
      <>
        <tspan fontStyle="italic">δ</tspan>
        <tspan> ()</tspan>
      </>
    );
  if (kind === 3)
    return (
      <>
        <tspan fontStyle="italic">s</tspan>
        <tspan> ()</tspan>
      </>
    );
  return (
    <>
      <tspan>γ</tspan>
      <tspan fontSize={13} dy={4}>0</tspan>
      <tspan dy={-4}> (lorentz-factor*)</tspan>
    </>
  );
}

const panels = [
  { walkers: weave(nEven, nOdd), top: 10, labelX: 72, fmt: (v: number) => String(v) },
  { walkers: weave(bEven, bOdd), top: 137.5, labelX: 40, fmt: (v: number) => String(v) },
  { walkers: weave(dEven, dOdd), top: 265, labelX: 62, fmt: (v: number) => String(v) },
  { walkers: weave(sEven, sOdd), top: 392.5, labelX: 53, fmt: (v: number) => v.toFixed(1) },
  { walkers: weave(gEven, gOdd), top: 520.5, labelX: 22, fmt: (v: number) => String(v) },
];

function Panel({ idx }: { idx: number }) {
  const p = panels[idx];
  const last = idx === panels.length - 1;
  const xH = last ? 54 : 8;
  const rows = toRows(p.walkers);
  const dom = yDomains[idx];
  return (
    <div style={{ position: "absolute", left: 0, top: p.top - TOP_PAD }}>
      <LineChart
        width={1050}
        height={TOP_PAD + PLOT_H + xH}
        data={rows}
        margin={{ top: TOP_PAD, right: 10, bottom: 0, left: 0 }}
      >
        <XAxis
          dataKey="step"
          type="number"
          domain={X_DOMAIN}
          ticks={stepTicks}
          allowDataOverflow
          height={xH}
          tickSize={5}
          tickMargin={4}
          tick={last ? { fill: "#000", fontSize: FS, fontFamily: FONT } : false}
          tickLine={{ stroke: "#000", strokeWidth: 1 }}
          axisLine={{ stroke: "#000", strokeWidth: 1 }}
        >
          {last && (
            <Label
              value="steps"
              position="insideBottom"
              offset={7}
              style={{ fill: "#000", fontSize: FS, fontFamily: FONT }}
            />
          )}
        </XAxis>
        <YAxis
          type="number"
          domain={dom}
          ticks={yTicks[idx]}
          allowDataOverflow
          width={110}
          tickSize={5}
          tickMargin={6}
          tickFormatter={p.fmt}
          tick={{ fill: "#000", fontSize: FS, fontFamily: FONT }}
          tickLine={{ stroke: "#000", strokeWidth: 1 }}
          axisLine={{ stroke: "#000", strokeWidth: 1 }}
        >
          <Label
            content={(props: any) => {
              const vb = props.viewBox || {};
              const cy = vb.y + vb.height / 2;
              const cx = p.labelX;
              return (
                <text
                  x={cx}
                  y={cy}
                  transform={`rotate(-90 ${cx} ${cy})`}
                  textAnchor="middle"
                  dominantBaseline="central"
                  fill="#000"
                  fontSize={FS}
                  fontFamily={FONT}
                >
                  {yLabel(idx)}
                </text>
              );
            }}
          />
        </YAxis>
        {p.walkers.map((_, k) => (
          <Line
            key={k}
            dataKey={"w" + k}
            type="stepAfter"
            stroke="#000"
            strokeOpacity={0.5}
            strokeWidth={1.9}
            dot={false}
            activeDot={false}
            connectNulls
            isAnimationActive={false}
          />
        ))}
        <ReferenceLine
          y={bestValues[idx]}
          stroke="#0000ff"
          strokeWidth={2.3}
          ifOverflow="extendDomain"
        />
        <ReferenceArea
          x1={X_DOMAIN[0]}
          x2={X_DOMAIN[1]}
          y1={dom[0]}
          y2={dom[1]}
          fill="none"
          stroke="#000"
          strokeWidth={1}
          fillOpacity={0}
        />
      </LineChart>
    </div>
  );
}

export default function App() {
  return (
    <div
      style={{
        position: "absolute",
        left: 0,
        top: 0,
        width: 1050,
        height: 689,
        background: "#fff",
        fontFamily: FONT,
      }}
    >
      <style>{`.recharts-surface { overflow: visible; } .recharts-wrapper { overflow: visible; }`}</style>
      {panels.map((_, i) => (
        <Panel key={i} idx={i} />
      ))}
    </div>
  );
}
